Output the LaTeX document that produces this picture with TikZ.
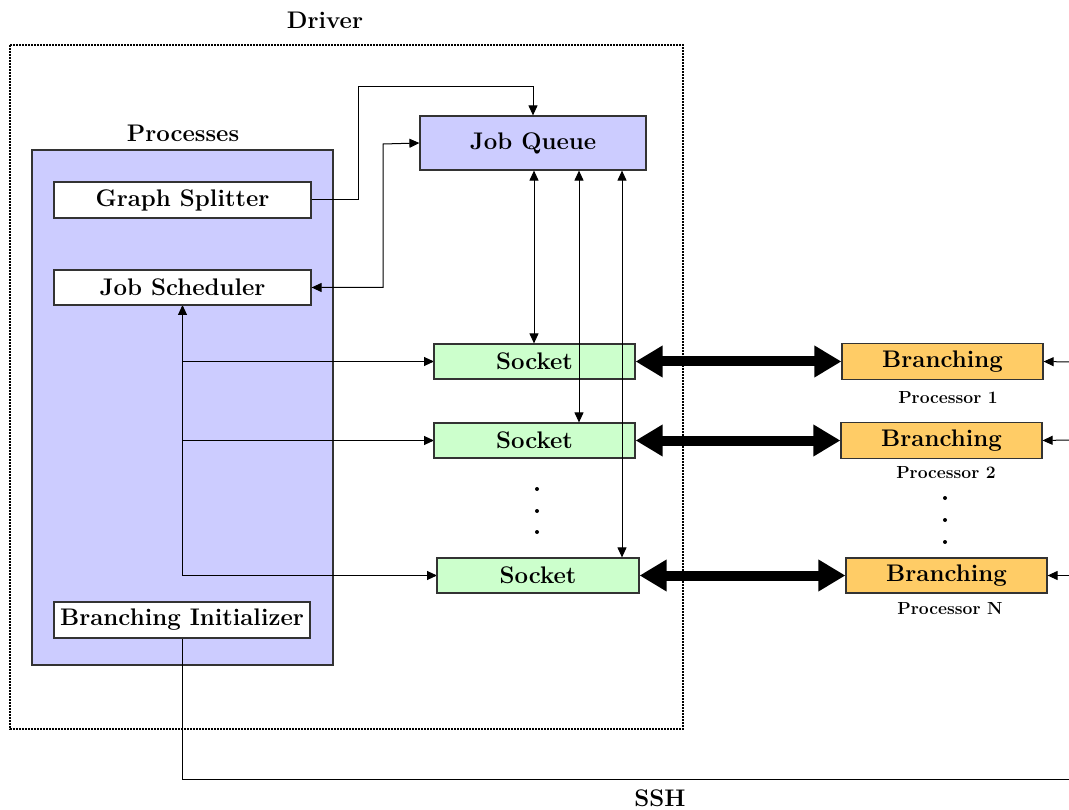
\documentclass[tikz,border=0pt]{standalone}
\usepackage{fontspec}
\usetikzlibrary{arrows.meta}
\definecolor{lav}{HTML}{CCCCFF}
\definecolor{mint}{HTML}{CCFFCC}
\definecolor{gold}{HTML}{FFCC66}
\definecolor{edge}{HTML}{333333}
\tikzset{
  lbl/.style={font=\fontsize{24}{27}\selectfont\bfseries, inner sep=0pt},
  box/.style={draw=edge, line width=1.2pt, inner sep=0pt, font=\fontsize{24}{27}\selectfont\bfseries},
  whitebox/.style={box, fill=white, minimum width=257pt, minimum height=36pt},
  queuebox/.style={box, fill=lav},
  sockbox/.style={box, fill=mint, minimum width=201pt, minimum height=35pt},
  branchbox/.style={box, fill=gold, minimum width=201pt, minimum height=36pt},
  proclbl/.style={font=\fontsize{17.5}{19}\selectfont\bfseries, inner sep=0pt},
  arr/.style={line width=1pt, -{Triangle[length=10pt,width=9pt]}},
  biarr/.style={line width=1pt, {Triangle[length=10pt,width=9pt]}-{Triangle[length=10pt,width=9pt]}},
  fatarr/.style={line width=10pt, {Triangle[length=27pt,width=30pt]}-{Triangle[length=27pt,width=30pt]}},
  plain/.style={line width=1pt},
  dotbox/.style={line width=1.6pt, dash pattern=on 1.6pt off 1.4pt},
  dot/.style={circle, fill=black, inner sep=0pt, minimum size=4pt}
}
\begin{document}
\begin{tikzpicture}[x=1pt,y=-1pt]
\useasboundingbox (0,0) rectangle (1069,810);
% Driver frame
\draw[dotbox] (10,45) rectangle (683,729);
\node[lbl] (driver) at (325,20) {Driver};
% Processes
\node[box, fill=lav, minimum width=301pt, minimum height=515pt] (proc) at (182.5,407.5) {};
\node[lbl] (proclabel) at (183,133) {Processes};
% coordinates
\coordinate (c1) at (358,87);
\coordinate (c2) at (383,144);
\coordinate (q1) at (534,0);
\coordinate (q2) at (579,0);
\coordinate (q3) at (622,0);
\coordinate (t3) at (182.5,575.5);
\coordinate (r1) at (1069,362);
\coordinate (r2) at (1069,440);
\coordinate (r3) at (1069,575.5);
\coordinate (r4) at (1069,779);
% lines over processes box
\draw[arr] (t3) -- (182.5,305);
\draw[arr] (182.5,361.5) -- (434,361.5);
\draw[arr] (182.5,440.5) -- (434,440.5);
\draw[arr] (t3) -- (437,575.5);
\draw[plain] (182,638) |- (r4);
% inner nodes
\node[whitebox] (gs) at (182.5,200) {Graph Splitter};
\node[whitebox, minimum height=35pt] (js) at (182.5,287.5) {Job Scheduler};
\node[whitebox, minimum width=256pt] (bi) at (182,620) {Branching Initializer};
\node[queuebox, minimum width=226pt, minimum height=54pt] (jq) at (533,143) {Job Queue};
\node[sockbox] (s1) at (534.5,361.5) {Socket};
\node[sockbox] (s2) at (534.5,440.5) {Socket};
\node[sockbox, minimum width=202pt] (s3) at (538,575.5) {Socket};
\node[branchbox] (b1) at (942.5,361.5) {Branching};
\node[branchbox] (b2) at (941.5,440.5) {Branching};
\node[branchbox, minimum height=35pt] (b3) at (946.5,575.5) {Branching};
\node[proclbl] (p1) at (948,398) {Processor 1};
\node[proclbl] (p2) at (946,473) {Processor 2};
\node[proclbl] (pn) at (950,609) {Processor N};
\node[font=\fontsize{24}{26}\selectfont\bfseries, inner sep=0pt] (ssh) at (660,798) {SSH};
% connectors
\draw[arr] (gs.east) -| (c1) -| (jq.north);
\draw[biarr] (js.east) -| (c2) -- (jq.west);
\draw[biarr] (jq.south -| q1) -- (q1 |- s1.north);
\draw[biarr] (jq.south -| q2) -- (q2 |- s2.north);
\draw[biarr] (jq.south -| q3) -- (q3 |- s3.north);
\draw[fatarr] (s1.east) -- (b1.west);
\draw[fatarr] (s2.east) -- (b2.west);
\draw[fatarr] (s3.east) -- (b3.west);
\draw[arr] (r1) -- (b1.east);
\draw[arr] (r2) -- (b2.east);
\draw[arr] (r3) -- (b3.east);
% dots
\node[dot] (d1) at (537,489) {};
\node[dot] (d2) at (537,511) {};
\node[dot] (d3) at (537,532) {};
\node[dot] (e1) at (945,498) {};
\node[dot] (e2) at (945,520) {};
\node[dot] (e3) at (945,542) {};
\end{tikzpicture}
\end{document}
